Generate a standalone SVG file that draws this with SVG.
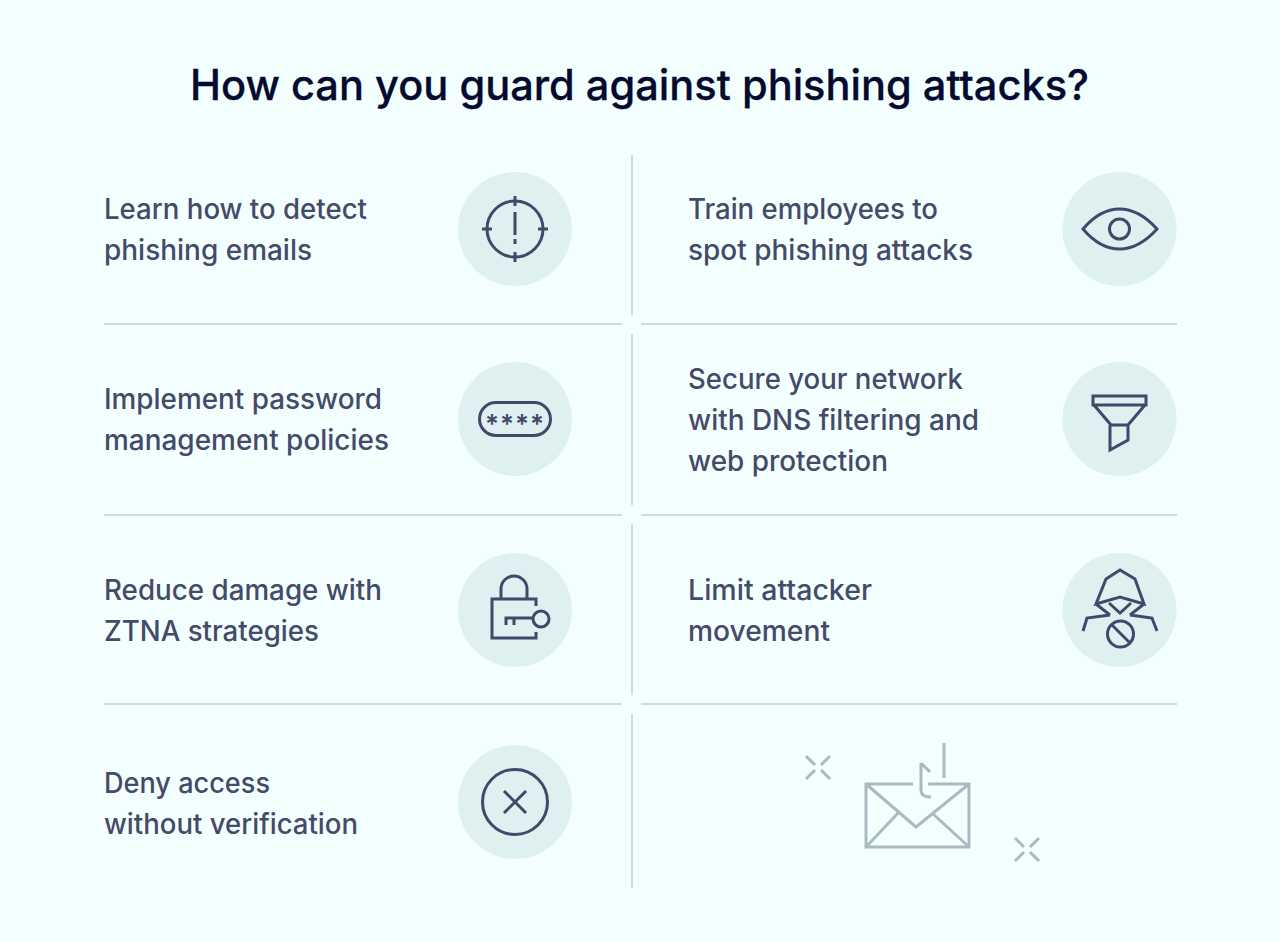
<svg xmlns="http://www.w3.org/2000/svg" width="1280" height="942" viewBox="0 0 1280 942">
<style>
.t{font-family:"Inter","Noto Sans",sans-serif;font-size:28px;font-weight:500;fill:#454a69}
.h{font-family:"Inter","Noto Sans",sans-serif;font-size:42px;font-weight:500;fill:#050a30;stroke:#050a30;stroke-width:.3}
.c{fill:#def0f0}
.i{fill:none;stroke:#43486a;stroke-width:3}
.g{fill:none;stroke:#a9bac3;stroke-width:3}
.d{stroke:#ccdde0;stroke-width:2;fill:none}
</style>
<rect width="1280" height="942" fill="#f3ffff"/>
<text class="h" x="190" y="100" textLength="899" lengthAdjust="spacingAndGlyphs">How can you guard against phishing attacks?</text>
<g id="connectors" class="d">
<path d="M632 155V315M632 334V505M632 524V695M632 714V888"/>
<path d="M104 324H622M641 324H1177M104 515H622M641 515H1177M104 704H622M641 704H1177"/>
</g>
<g id="node-detect">
<text class="t" x="104" y="219" textLength="263" lengthAdjust="spacingAndGlyphs">Learn how to detect</text><text class="t" x="104" y="260" textLength="208" lengthAdjust="spacingAndGlyphs">phishing emails</text>
<circle class="c" cx="515" cy="229" r="57"/>
<circle class="i" cx="515" cy="229" r="28"/>
<path class="i" d="M515 196V206M515 252V262M482 229H492M538 229H548M515 212V235M515 239V244"/>
</g>
<g id="node-train">
<text class="t" x="688" y="219" textLength="250" lengthAdjust="spacingAndGlyphs">Train employees to</text><text class="t" x="688" y="260" textLength="285" lengthAdjust="spacingAndGlyphs">spot phishing attacks</text>
<circle class="c" cx="1119.500" cy="229" r="57"/>
<path class="i" d="M1083 229Q1100 209 1119.500 209T1157 229Q1139 249 1119.500 249T1083 229Z"/>
<circle class="i" cx="1119.500" cy="229" r="10"/>
</g>
<g id="node-password">
<text class="t" x="104" y="409" textLength="278" lengthAdjust="spacingAndGlyphs">Implement password</text><text class="t" x="104" y="450" textLength="285" lengthAdjust="spacingAndGlyphs">management policies</text>
<circle class="c" cx="515" cy="419" r="57"/>
<rect class="i" x="479.500" y="402.500" width="71" height="33" rx="16.500"/>
<text x="515" y="433" text-anchor="middle" font-family="Inter,sans-serif" font-size="26" font-weight="600" letter-spacing="1" fill="#43486a">****</text>
</g>
<g id="node-dns">
<text class="t" x="688" y="389" textLength="275" lengthAdjust="spacingAndGlyphs">Secure your network</text><text class="t" x="688" y="430" textLength="291" lengthAdjust="spacingAndGlyphs">with DNS filtering and</text><text class="t" x="688" y="471" textLength="200" lengthAdjust="spacingAndGlyphs">web protection</text>
<circle class="c" cx="1119.500" cy="419" r="57"/>
<path class="i" d="M1093 396H1146V405H1093ZM1094 405L1111 425H1128L1145 405M1110 425V450L1128 440V425"/>
</g>
<g id="node-ztna">
<text class="t" x="104" y="600" textLength="278" lengthAdjust="spacingAndGlyphs">Reduce damage with</text><text class="t" x="104" y="641" textLength="215" lengthAdjust="spacingAndGlyphs">ZTNA strategies</text>
<circle class="c" cx="515" cy="610" r="57"/>
<path class="i" d="M536 606V599H492V638H536V632M501 599V589A13 13 0 0 1 527 589V599M533 618H506V625M514 618V625"/>
<circle class="i" cx="541" cy="619" r="8"/>
</g>
<g id="node-limit">
<text class="t" x="688" y="600" textLength="184" lengthAdjust="spacingAndGlyphs">Limit attacker</text><text class="t" x="688" y="641" textLength="142" lengthAdjust="spacingAndGlyphs">movement</text>
<circle class="c" cx="1119.500" cy="610" r="57"/>
<path class="i" d="M1096 604L1106 579L1120 570L1135 579L1144 604L1120 597ZM1096 604L1110 615M1144 604L1130 615M1109 603L1120 613L1131 603M1110 615L1087 618L1083 631M1130 615L1152 618L1157 631"/>
<circle class="i" cx="1120.500" cy="634" r="13"/>
<path class="i" d="M1112 625L1130 643"/>
</g>
<g id="node-deny">
<text class="t" x="104" y="792.500" textLength="166" lengthAdjust="spacingAndGlyphs">Deny access</text><text class="t" x="104" y="833.500" textLength="254" lengthAdjust="spacingAndGlyphs">without verification</text>
<circle class="c" cx="515" cy="802" r="57"/>
<circle class="i" cx="515" cy="802" r="32.500"/>
<path class="i" d="M504 791L526 813M526 791L504 813"/>
</g>
<g id="illustration">
<path class="g" d="M913 784H866V847H969V784H928M866 784L916 827L969 784M899 812L866 847M932 813L969 847M944 743V778M921 763V790Q921 797 931 797M921 763L930 772"/>
<path class="g" d="M806 756L815 765M830 756L821 765M806 779L815 770M830 779L821 770M1015 838L1024 847M1039 838L1030 847M1015 861L1024 852M1039 861L1030 852"/>
</g>
</svg>
